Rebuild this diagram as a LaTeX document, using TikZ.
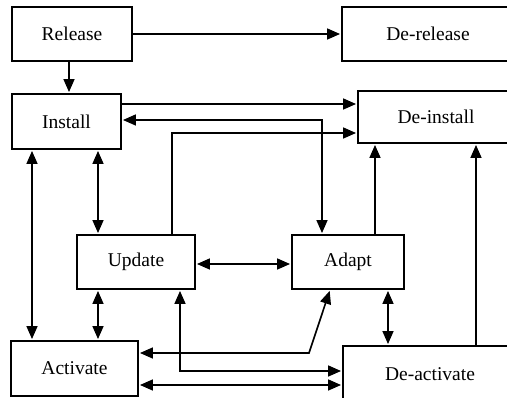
\documentclass[tikz,border=0pt]{standalone}
\usepackage{fontspec}
\setmainfont{Liberation Serif}
\usetikzlibrary{arrows.meta}
\begin{document}
\begin{tikzpicture}[x=1pt,y=-1pt,
  box/.style={draw, line width=1.9pt, fill=white, inner sep=0pt,
    font=\fontsize{19.5}{22}\selectfont},
  tip/.style={},
  conn/.style={line width=1.6pt, -{Triangle[length=13pt,width=11pt]}, shorten >=1pt},
  bconn/.style={line width=1.6pt, {Triangle[length=13pt,width=11pt]}-{Triangle[length=13pt,width=11pt]}, shorten >=1pt, shorten <=1pt}]
\useasboundingbox (0,0) rectangle (507,398);
\clip (0,0) rectangle (507,398);
\node[box, minimum width=120pt, minimum height=54pt] (rel) at (72,34) {Release};
\node[box, minimum width=172pt, minimum height=54pt] (derel) at (428,34) {De-release};
\node[box, minimum width=109pt, minimum height=55pt] (inst) at (66.5,121.5) {Install};
\node[box, minimum width=156pt, minimum height=52pt] (deinst) at (436,117) {De-install};
\node[box, minimum width=118pt, minimum height=54pt] (upd) at (136,262) {Update};
\node[box, minimum width=112pt, minimum height=54pt] (adapt) at (348,262) {Adapt};
\node[box, minimum width=127pt, minimum height=55pt] (act) at (74.5,368.5) {Activate};
\node[box, minimum width=174pt, minimum height=56pt] (deact) at (430,374) {De-activate};
% connectors
\draw[conn] (rel.south -| 69,0) -- (inst.north -| 69,0);
\draw[conn] (rel.east) -- (derel.west);
\draw[conn] (inst.east |- 0,104) -- (deinst.west |- 0,104);
\draw[bconn] (inst.east |- 0,120) -- (322,120) -- (adapt.north -| 322,0);
\draw[conn] (upd.north -| 172,0) -- (172,133) -- (deinst.west |- 0,133);
\draw[conn] (adapt.north -| 375,0) -- (deinst.south -| 375,0);
\draw[conn] (deact.north -| 476,0) -- (deinst.south -| 476,0);
\draw[bconn] (inst.south -| 32,0) -- (act.north -| 32,0);
\draw[bconn] (inst.south -| 98,0) -- (upd.north -| 98,0);
\draw[bconn] (upd.east |- 0,264) -- (adapt.west |- 0,264);
\draw[bconn] (upd.south -| 98,0) -- (act.north -| 98,0);
\draw[bconn] (adapt.south -| 388,0) -- (deact.north -| 388,0);
\draw[bconn] (act.east |- 0,353) -- (309,353) -- (adapt.south -| 330,0);
\draw[bconn] (upd.south -| 180,0) -- (180,371) -- (deact.west |- 0,371);
\draw[bconn] (act.east |- 0,385) -- (deact.west |- 0,385);
\end{tikzpicture}
\end{document}
